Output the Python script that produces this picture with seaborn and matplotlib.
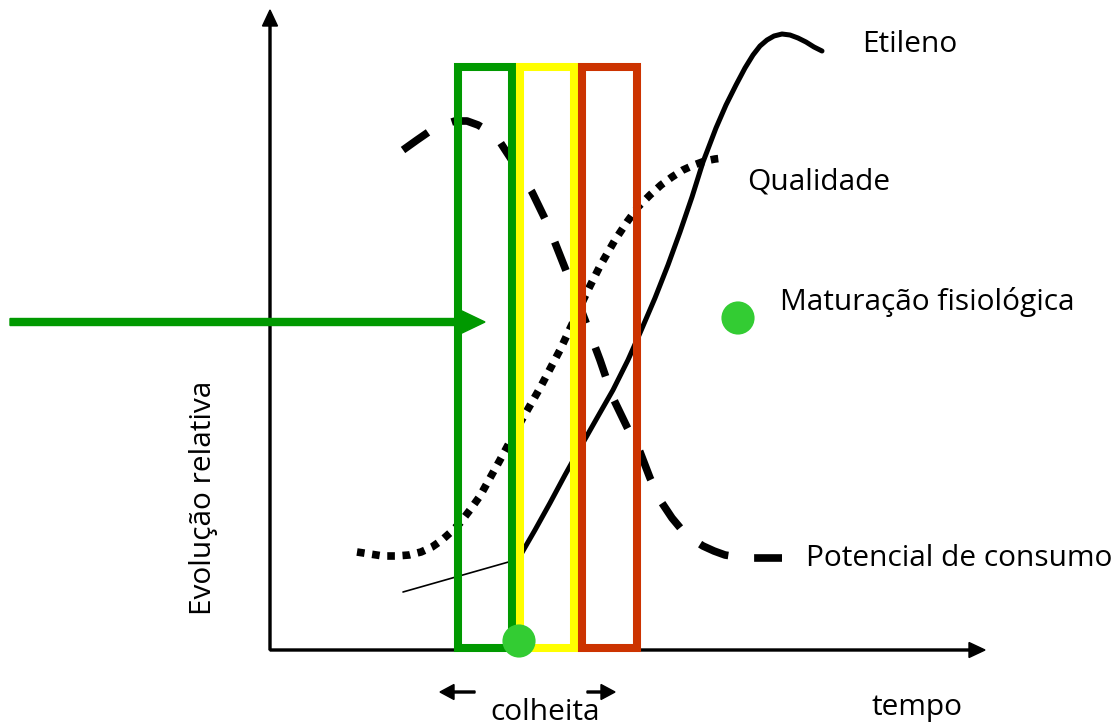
import numpy as np
import pandas as pd
import seaborn as sns
import matplotlib.pyplot as plt
from matplotlib.patches import Rectangle

sns.set_theme(style="white")
plt.rcParams['font.family'] = ['Open Sans', 'DejaVu Sans']
plt.rcParams['text.color'] = 'black'

# curvas do esquema (coordenadas em pixels da figura, y para baixo)
etileno_x = [520, 535, 550, 565, 580, 597, 613, 628, 640, 655, 668, 680, 692, 703, 716, 726, 736, 745, 753, 760, 767, 774, 782, 790, 798, 806, 814, 822]
etileno_y = [556, 530, 503, 475, 448, 418, 390, 360, 333, 298, 265, 232, 197, 162, 128, 105, 85, 68, 55, 46, 40, 36, 34, 35, 38, 42, 47, 51]
etileno_ini_x = [403, 512]
etileno_ini_y = [592, 561]

qualidade_x = [357, 370, 383, 396, 409, 421, 432, 442, 451, 460, 470, 480, 490, 500, 520, 540, 560, 575, 587, 600, 615, 627, 638, 650, 661, 672, 683, 694, 705, 715, 723]
qualidade_y = [552, 554, 556, 556, 555, 552, 547, 540, 532, 523, 510, 496, 478, 460, 423, 388, 350, 318, 292, 266, 240, 222, 207, 195, 185, 177, 170, 165, 161, 159, 158]

potencial_x = [403, 417, 430, 443, 455, 467, 478, 490, 500, 515, 532, 548, 565, 585, 600, 613, 627, 640, 650, 662, 672, 682, 692, 703, 714, 725, 738, 750, 766, 782]
potencial_y = [150, 140, 131, 125, 121, 121, 125, 132, 142, 165, 192, 225, 268, 320, 360, 398, 427, 452, 478, 503, 518, 530, 539, 546, 551, 555, 557, 558, 558, 558]

# janelas de colheita
janela_esq = [457.5, 520, 582]
janela_dir = [512, 574, 636.5]
janela_cor = ['#009900', '#ffff00', '#cc3300']
janela_topo = 67
janela_base = 648

# pontos de maturação fisiológica
mat_x = [519, 738]
mat_y = [641, 318]

rotulos = ["Etileno", "Qualidade", "Maturação fisiológica", "Potencial de consumo"]
rotulos_x = [862, 747, 780, 806]
rotulos_y = [44, 182, 302, 558]

fig = plt.figure(figsize=(11.2, 7.28), dpi=100)
ax = fig.add_axes([0, 0, 1, 1])
ax.set_xlim(0, 1120)
ax.set_ylim(728, 0)
ax.axis('off')

# eixos
ax.arrow(270, 650, 0, -640, width=2, head_width=15, head_length=16,
         length_includes_head=True, color='black', zorder=2)
ax.arrow(270, 650, 715, 0, width=2, head_width=15, head_length=16,
         length_includes_head=True, color='black', zorder=2)

# seta verde
ax.arrow(10, 322, 475, 0, width=7, head_width=23, head_length=24,
         length_includes_head=True, color='#009900', zorder=6)

# curvas
sns.lineplot(x=etileno_ini_x, y=etileno_ini_y, sort=False, ax=ax, color='black', lw=1.2, zorder=3)
sns.lineplot(x=etileno_x, y=etileno_y, sort=False, ax=ax, color='black', lw=3.6, zorder=3)
sns.lineplot(x=qualidade_x, y=qualidade_y, sort=False, ax=ax, color='black', lw=5.5,
             linestyle=(0, (1, 1)), zorder=3)
sns.lineplot(x=potencial_x, y=potencial_y, sort=False, ax=ax, color='black', lw=5.5,
             linestyle=(0, (4, 3.4)), zorder=3)

# retângulos
for esq, dir_, cor in zip(janela_esq, janela_dir, janela_cor):
    ax.add_patch(Rectangle((esq, janela_topo), dir_ - esq, janela_base - janela_topo,
                           fill=False, edgecolor=cor, lw=5.8, joinstyle='miter', zorder=4))

sns.scatterplot(x=mat_x, y=mat_y, ax=ax, s=570, color='#33cc33', edgecolor='none', zorder=7)

for txt, tx, ty in zip(rotulos, rotulos_x, rotulos_y):
    ax.text(tx, ty, txt, fontsize=21.5, ha='left', va='center', color='black')

ax.text(872, 707, "tempo", fontsize=21.5, ha='left', va='center', color='black')
ax.text(545, 713, "colheita", fontsize=21.5, ha='center', va='center', color='black')
ax.text(203, 498, "Evolução relativa", fontsize=21.5, ha='center', va='center',
        rotation=90, color='black')

# setas da colheita
ax.arrow(475, 692, -35, 0, width=2, head_width=15, head_length=14,
         length_includes_head=True, color='black')
ax.arrow(587, 692, 28, 0, width=2, head_width=15, head_length=14,
         length_includes_head=True, color='black')

fig.savefig("out.png", dpi=100)
